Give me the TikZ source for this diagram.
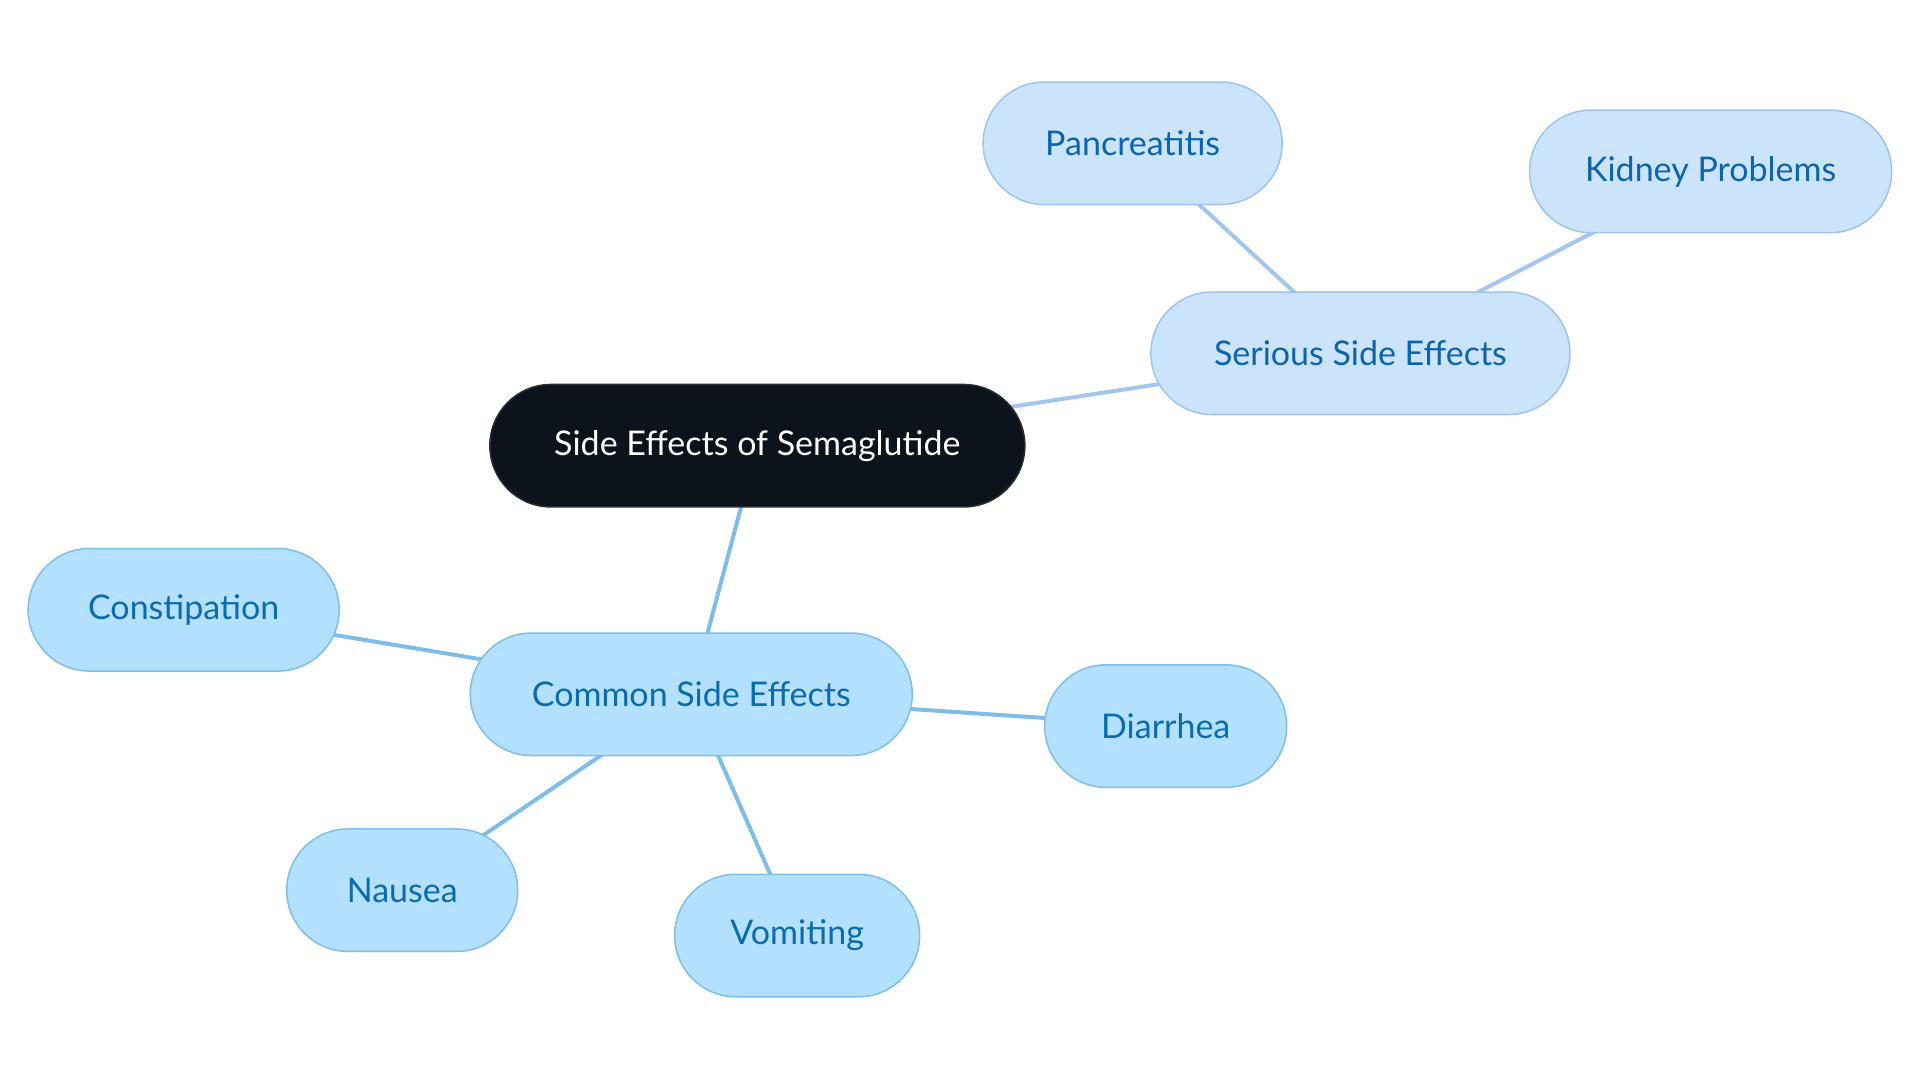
\documentclass[tikz,border=0pt]{standalone}
\usepackage{fontspec}
\setmainfont{Lato}
\begin{document}
\begin{tikzpicture}[x=1.2245pt,y=-1.2245pt,
  base/.style={rounded corners=61.2pt,minimum height=122.5pt,inner sep=0pt,line width=1.5pt,font=\fontsize{34}{40}\selectfont},
  root/.style={base,fill=black!90!blue!60!black,fill={rgb,255:red,12;green,19;blue,26},draw={rgb,255:red,40;green,45;blue,52},text=white},
  com/.style={base,fill={rgb,255:red,179;green,224;blue,253},draw={rgb,255:red,125;green,190;blue,234},text={rgb,255:red,11;green,107;blue,175}},
  ser/.style={base,fill={rgb,255:red,204;green,228;blue,251},draw={rgb,255:red,157;green,195;blue,238},text={rgb,255:red,11;green,100;blue,175}},
  ce/.style={line width=4pt,draw={rgb,255:red,125;green,189;blue,232}},
  se/.style={line width=4pt,draw={rgb,255:red,163;green,197;blue,238}}]
\useasboundingbox (0,0) rectangle (1568,884.4);
\coordinate (r0) at (618.5,364);
\coordinate (s0) at (1111,288.5);
\coordinate (p0) at (925,117);
\coordinate (k0) at (1397,140);
\coordinate (c0) at (564.5,567);
\coordinate (co0) at (150,498);
\coordinate (d0) at (952,593);
\coordinate (n0) at (328.5,727);
\coordinate (v0) at (651,764);
\draw[se] (r0)--(s0); \draw[se] (s0)--(p0); \draw[se] (s0)--(k0);
\draw[ce] (r0)--(c0); \draw[ce] (c0)--(co0); \draw[ce] (c0)--(d0); \draw[ce] (c0)--(n0); \draw[ce] (c0)--(v0);
\node[root,minimum width=535pt] (r) at (r0) {Side Effects of Semaglutide};
\node[ser,minimum width=419pt] (s) at (s0) {Serious Side Effects};
\node[ser,minimum width=299pt] (p) at (p0) {Pancreatitis};
\node[ser,minimum width=362pt] (k) at (k0) {Kidney Problems};
\node[com,minimum width=442pt] (c) at (c0) {Common Side Effects};
\node[com,minimum width=311pt] (co) at (co0) {Constipation};
\node[com,minimum width=242pt] (d) at (d0) {Diarrhea};
\node[com,minimum width=231pt] (n) at (n0) {Nausea};
\node[com,minimum width=245pt] (v) at (v0) {Vomiting};
\end{tikzpicture}
\end{document}
